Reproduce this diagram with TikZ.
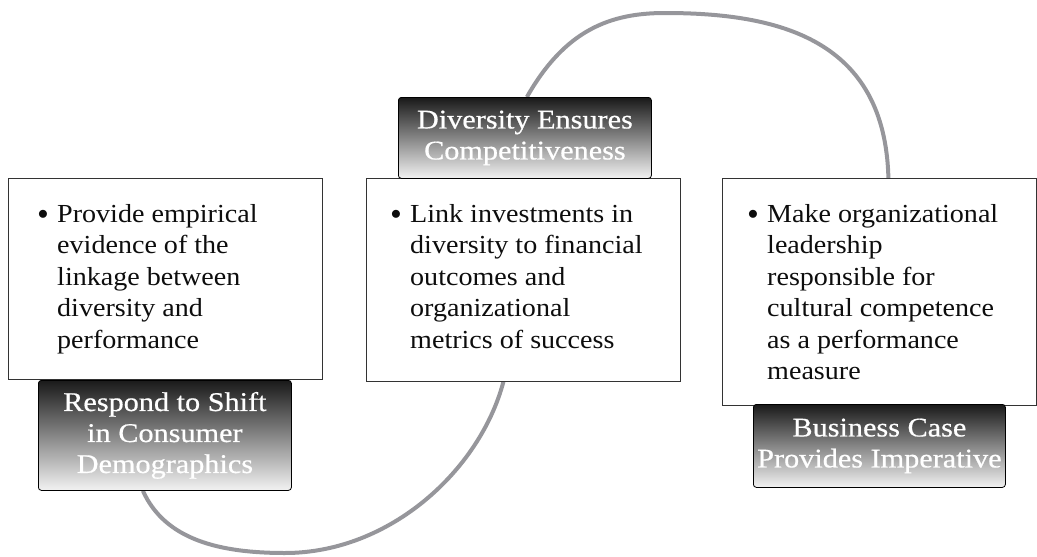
\documentclass[tikz,border=0pt]{standalone}
\usepackage{fontspec}
\setmainfont{Liberation Serif}
\newfontfamily\tagfont[FakeStretch=1.12,FakeBold=0.6]{Liberation Serif}
\newfontfamily\bodyfont[FakeStretch=1.08]{Liberation Serif}
\usetikzlibrary{backgrounds}
\definecolor{loopgray}{RGB}{150,150,155}
\begin{document}
\begin{tikzpicture}[x=1pt,y=-1pt,
  panel/.style={draw=black!80,line width=0.8pt,fill=white,minimum width=314pt,anchor=north west,inner sep=0pt},
  tag/.style={draw=black,line width=0.8pt,rounded corners=3pt,top color=black!90,bottom color=black!5,
    text=white,align=center,font=\tagfont\fontsize{27}{31}\selectfont,minimum width=253pt,anchor=north west,inner sep=0pt},
  body/.style={anchor=north west,align=left,inner sep=0pt,font=\bodyfont\fontsize{26}{31.5}\selectfont,text=black!95},
  dot/.style={anchor=center,inner sep=0pt,font=\fontsize{20}{20}\selectfont,text=black!95},
  loop/.style={draw=loopgray,line width=4pt}]
\useasboundingbox (0,0) rectangle (1037,557);

% white panels
\node[panel,minimum height=201pt] (lbox) at (8,178) {};
\node[panel,minimum height=203pt] (mbox) at (366,178) {};
\node[panel,minimum height=227pt] (rbox) at (722,178) {};

% bullet texts
\node[dot] (lb) at (43,215) {$\bullet$};
\node[body] (lt) at (57,204) {Provide empirical\\evidence of the\\linkage between\\diversity and\\performance};
\node[dot] (mb) at (396,215) {$\bullet$};
\node[body] (mt) at (410,204) {Link investments in\\diversity to financial\\outcomes and\\organizational\\metrics of success};
\node[dot] (rb) at (753,215) {$\bullet$};
\node[body] (rt) at (767,204) {Make organizational\\leadership\\responsible for\\cultural competence\\as a performance\\measure};

% shaded tags
\node[tag,minimum height=110pt] (lab1) at (38,380) {Respond to Shift\\in Consumer\\Demographics};
\node[tag,minimum height=81pt] (lab2) at (398,97) {Diversity Ensures\\Competitiveness};
\node[tag,minimum height=83pt,minimum width=252pt] (lab3) at (753,404) {Business Case\\Provides Imperative};

% connecting loops behind everything
\begin{scope}[on background layer]
  \draw[loop] ([xshift=2pt]lab2.north) .. controls (565,30) and (610,13) .. (665,13)
    .. controls (780,13) and (885,40) .. ([xshift=9pt]rbox.north);
  \draw[loop] ([xshift=-22pt]lab1.south) .. controls (165,540) and (220,553) .. (285,553)
    .. controls (390,553) and (480,470) .. ([xshift=-20pt]mbox.south);
\end{scope}
\end{tikzpicture}
\end{document}
